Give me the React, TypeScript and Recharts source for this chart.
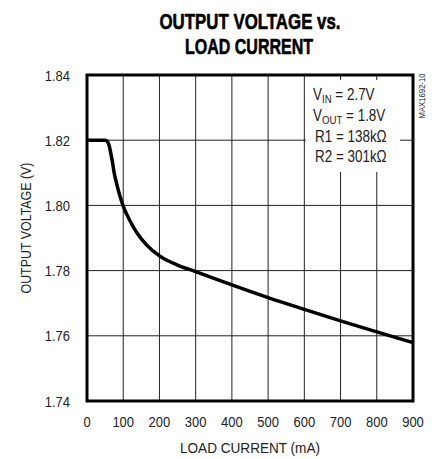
import { CartesianGrid, Line, LineChart, ReferenceArea, XAxis, YAxis } from "recharts";

// load current (mA) vs output voltage (V)
const loadCurrent = [0, 50, 57, 62, 66, 70, 75, 80, 88, 100, 120, 140, 165, 200, 250, 300, 400, 500, 600, 700, 800, 900];
const outputVoltage = [1.82, 1.82, 1.8195, 1.818, 1.8158, 1.8135, 1.81, 1.8075, 1.804, 1.7998, 1.795, 1.7912, 1.7878, 1.7845, 1.7817, 1.7797, 1.7756, 1.7717, 1.7681, 1.7646, 1.7612, 1.7579];

const xTicks = [0, 100, 200, 300, 400, 500, 600, 700, 800, 900];
const yTicks = [1.74, 1.76, 1.78, 1.8, 1.82, 1.84];

const data = loadCurrent.map((x, i) => ({ x, v: outputVoltage[i] }));

const FONT = "'Liberation Sans', Arial, sans-serif";
const SQUEEZE = 0.84;

function XTick(props: any) {
  const { x, y, payload } = props;
  return (
    <text
      transform={`translate(${x} ${y}) scale(${SQUEEZE} 1)`}
      textAnchor="middle"
      dy="0.71em"
      fontSize={15.5}
      fill="#222"
      fontFamily={FONT}
    >
      {payload.value}
    </text>
  );
}

function YTick(props: any) {
  const { x, y, payload } = props;
  return (
    <text
      transform={`translate(${x} ${y}) scale(${SQUEEZE} 1)`}
      textAnchor="end"
      dy="0.36em"
      fontSize={15.5}
      fill="#222"
      fontFamily={FONT}
    >
      {Number(payload.value).toFixed(2)}
    </text>
  );
}

export default function App() {
  return (
    <div style={{ position: "absolute", left: 0, top: 0, width: 438, height: 459, background: "#fff" }}>
      <LineChart
        width={438}
        height={459}
        data={data}
        margin={{ top: 75, right: 25, bottom: 0, left: 0 }}
      >
        <CartesianGrid stroke="#222" strokeWidth={1} />
        <XAxis
          type="number"
          dataKey="x"
          domain={[0, 900]}
          ticks={xTicks}
          height={58}
          tickLine={false}
          axisLine={false}
          tickSize={0}
          tickMargin={15}
          interval={0}
          tick={<XTick />}
        />
        <YAxis
          type="number"
          domain={[1.74, 1.84]}
          ticks={yTicks}
          width={87}
          tickLine={false}
          axisLine={false}
          tickSize={0}
          tickMargin={17}
          interval={0}
          tick={<YTick />}
        />
        <ReferenceArea
          x1={0}
          x2={900}
          y1={1.74}
          y2={1.84}
          fill="none"
          stroke="#000"
          strokeWidth={3}
          ifOverflow="visible"
        />
        <Line
          type="monotone"
          dataKey="v"
          stroke="#000"
          strokeWidth={3.5}
          dot={false}
          isAnimationActive={false}
        />
      </LineChart>
      <svg
        width={438}
        height={459}
        style={{ position: "absolute", left: 0, top: 0, pointerEvents: "none" }}
        fontFamily={FONT}
      >
        <text x={250} y={29} textAnchor="middle" fontSize={22} fontWeight="bold" textLength={181} lengthAdjust="spacingAndGlyphs" stroke="#000" strokeWidth={0.6}>
          OUTPUT VOLTAGE vs.
        </text>
        <text x={249} y={54} textAnchor="middle" fontSize={22} fontWeight="bold" textLength={128} lengthAdjust="spacingAndGlyphs" stroke="#000" strokeWidth={0.6}>
          LOAD CURRENT
        </text>

        <text x={250} y={453} textAnchor="middle" fontSize={15.5} fill="#222" textLength={140} lengthAdjust="spacingAndGlyphs">
          LOAD CURRENT (mA)
        </text>
        <text
          transform="translate(31 228) rotate(-90)"
          textAnchor="middle"
          fontSize={15.5}
          fill="#222"
          textLength={131}
          lengthAdjust="spacingAndGlyphs"
        >
          OUTPUT VOLTAGE (V)
        </text>

        <text transform="translate(425 96) rotate(-90)" textAnchor="middle" fontSize={9.5} fill="#222" textLength={45} lengthAdjust="spacingAndGlyphs">
          MAX1692-10
        </text>

        <rect x={306} y={80} width={94} height={92} fill="#fff" />
        <g fontSize={16} fill="#222">
          <g transform={`translate(313 100) scale(${SQUEEZE} 1)`}>
            <text x={0} y={0}>
              V<tspan fontSize={11.5} dy={3}>IN</tspan>
              <tspan dy={-3}> = 2.7V</tspan>
            </text>
          </g>
          <g transform={`translate(313 121) scale(${SQUEEZE} 1)`}>
            <text x={0} y={0}>
              V<tspan fontSize={11.5} dy={3}>OUT</tspan>
              <tspan dy={-3}> = 1.8V</tspan>
            </text>
          </g>
          <g transform={`translate(315 142) scale(${SQUEEZE} 1)`}>
            <text x={0} y={0}>R1 = 138kΩ</text>
          </g>
          <g transform={`translate(315 162) scale(${SQUEEZE} 1)`}>
            <text x={0} y={0}>R2 = 301kΩ</text>
          </g>
        </g>
      </svg>
    </div>
  );
}
